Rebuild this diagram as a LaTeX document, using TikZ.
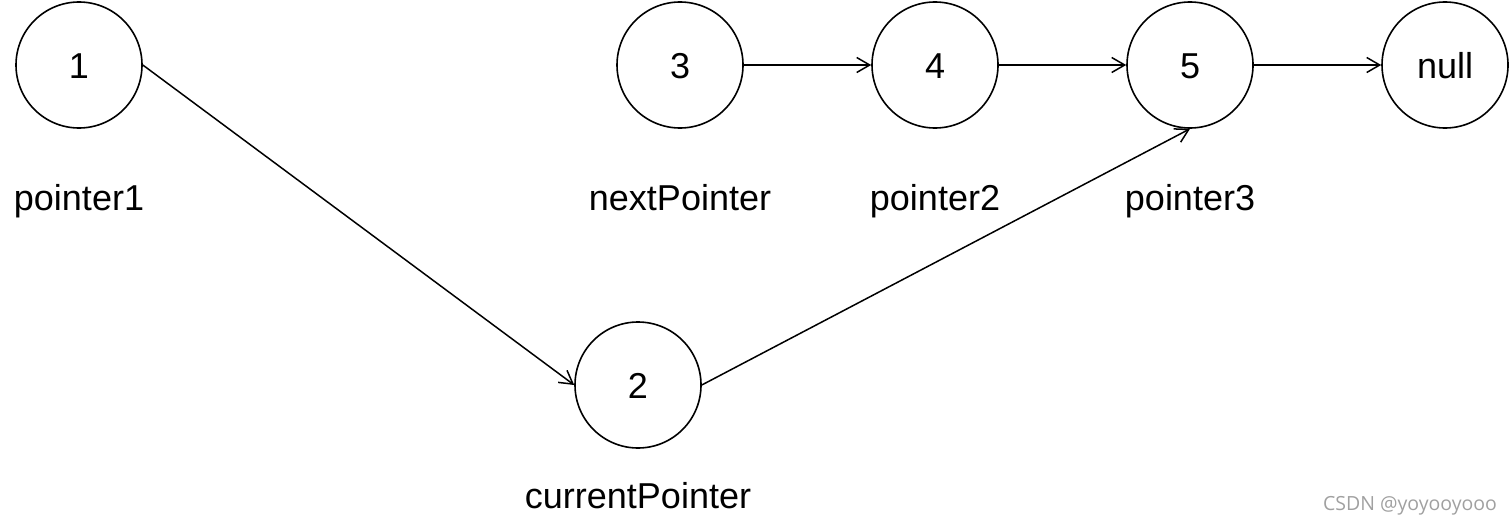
\documentclass[tikz,border=0pt]{standalone}
\usepackage{fontspec}
\usepackage{xcolor}
\usepackage{tikz}
\setmainfont{Liberation Sans}
\newfontfamily\markfont{Open Sans}
\definecolor{markgray}{RGB}{160,160,160}
\usetikzlibrary{arrows.meta}

\begin{document}
\begin{tikzpicture}[x=1pt, y=1pt, >={Straight Barb[length=13pt, width=15pt]}]
                \useasboundingbox (0,0) rectangle (1511,-527);
                \tikzset{ball/.style={draw, circle, black, line width=1.6pt, minimum size=126pt, inner sep=0pt, text height=26pt, text depth=0pt, font=\fontsize{36}{43}\selectfont},
                         ptr/.style={text height=26pt, text depth=8pt, font=\fontsize{36}{43}\selectfont}}
                \node[ball] (no1) at (79,-65) {1};
                \node[ball, right of=no1, node distance=601pt] (no3) {3};
                \node[ball, right of=no3, node distance=255pt] (no4) {4};
                \node[ball, right of=no4, node distance=255pt] (no5) {5};
                \node[ball, right of=no5, node distance=255pt] (nonull) {null};
                \node[ball, below of=no3, node distance=320pt, xshift=-42pt] (no2) {2};
                \node[ptr, below of=no1, node distance=136pt] (lb1) {pointer1};
                \node[ptr, below of=no3, node distance=136pt] (lbnext) {nextPointer};
                \node[ptr, below of=no4, node distance=136pt] (lb2) {pointer2};
                \node[ptr, below of=no5, node distance=136pt] (lb3) {pointer3};
                \node[ptr, below of=no2, node distance=114pt] (lbcur) {currentPointer};
                \node[text=markgray, font=\markfont\fontsize{19.5}{24}\selectfont] (mark) at (1410,-506) {CSDN @yoyooyooo};
                \draw[black, line width=1.5pt, ->](no1.east) -- (no2.west);
                \draw[black, line width=1.5pt, ->](no2.east) -- (no5.south);
                \draw[black, line width=1.5pt, ->](no3.east) -- (no4.west);
                \draw[black, line width=1.5pt, ->](no4.east) -- (no5.west);
                \draw[black, line width=1.5pt, ->](no5.east) -- (nonull.west);
            \end{tikzpicture}
\end{document}
